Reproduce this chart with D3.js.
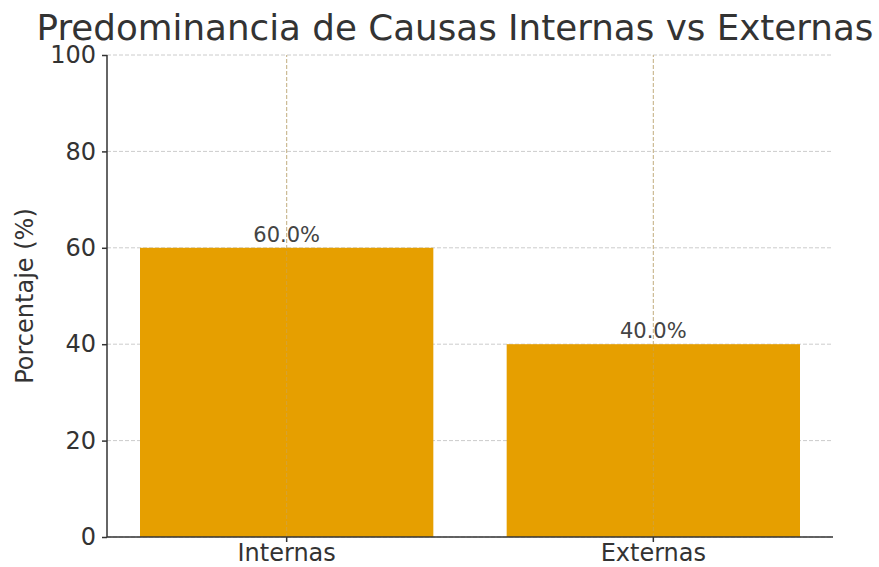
<!DOCTYPE html>
<html>
<head>
<meta charset="utf-8">
<script src="https://cdn.jsdelivr.net/npm/d3@7"></script>
<style>
  body { margin: 0; background: #fff; }
  text { font-family: "DejaVu Sans", sans-serif; fill: #333; }
</style>
</head>
<body>
<svg width="879" height="567"></svg>
<script>
// data
const categories = ["Internas", "Externas"];
const values = [60, 40];
const yTicks = [0, 20, 40, 60, 80, 100];

const svg = d3.select("svg");
const margin = {left: 107, right: 46, top: 55, bottom: 30};
const width = 879, height = 567;

let x = d3.scaleBand()
  .domain(categories)
  .range([margin.left, width - margin.right])
  .paddingInner(0.2)
  .paddingOuter(0.09);

let y = d3.scaleLinear()
  .domain([0, 100])
  .range([height - margin.bottom, margin.top]);

// grid
let grid = svg.append("g").attr("id", "grid");
grid.selectAll("line.h")
  .data(yTicks)
  .enter().append("line")
    .attr("x1", margin.left).attr("x2", width - margin.right)
    .attr("y1", d => y(d)).attr("y2", d => y(d))
    .attr("stroke", "#ccc").attr("stroke-dasharray", "4,2").attr("stroke-width", 1);
grid.selectAll("line.v")
  .data(categories)
  .enter().append("line")
    .attr("x1", d => x(d) + x.bandwidth() / 2).attr("x2", d => x(d) + x.bandwidth() / 2)
    .attr("y1", y(0)).attr("y2", y(100))
    .attr("stroke", "#ccc").attr("stroke-dasharray", "4,2").attr("stroke-width", 1);

// bars
svg.append("g").selectAll("rect")
  .data(values)
  .enter().append("rect")
    .attr("x", (d, i) => x(categories[i]))
    .attr("y", d => y(d))
    .attr("width", x.bandwidth())
    .attr("height", d => y(0) - y(d))
    .attr("fill", "#E69F00");

// vertical grid shows faintly through the bars
svg.append("g").selectAll("line")
  .data(categories)
  .enter().append("line")
    .attr("x1", d => x(d) + x.bandwidth() / 2).attr("x2", d => x(d) + x.bandwidth() / 2)
    .attr("y1", y(0)).attr("y2", y(100))
    .attr("stroke", "#c9a65c").attr("stroke-dasharray", "4,2").attr("stroke-width", 1)
    .attr("opacity", 0.6);

// bar labels
svg.append("g").selectAll("text")
  .data(values)
  .enter().append("text")
    .attr("x", (d, i) => x(categories[i]) + x.bandwidth() / 2)
    .attr("y", d => y(d) - 6)
    .attr("text-anchor", "middle")
    .attr("font-size", 21)
    .style("fill", "#444")
    .text(d => d.toFixed(1) + "%");

// axes
let yAxis = svg.append("g")
  .attr("transform", `translate(${margin.left},0)`)
  .call(d3.axisLeft(y).tickValues(yTicks).tickSize(5).tickPadding(6));
let xAxis = svg.append("g")
  .attr("transform", `translate(0,${y(0)})`)
  .call(d3.axisBottom(x).tickSize(5).tickPadding(2));

[yAxis, xAxis].forEach(a => {
  a.select(".domain").attr("stroke", "#333").attr("stroke-width", 1.5);
  a.selectAll(".tick line").attr("stroke", "#333").attr("stroke-width", 1.5);
  a.selectAll(".tick text").attr("font-size", 24).attr("font-family", "DejaVu Sans").style("fill", "#333");
});
// spines only, no outer tick caps
yAxis.select(".domain").attr("d", `M0,${y(100)}V${y(0)}`);
xAxis.select(".domain").attr("d", `M${margin.left},0H${width - margin.right}`);

// y label
svg.append("text")
  .attr("transform", `translate(33,${(y(0) + y(100)) / 2}) rotate(-90)`)
  .attr("text-anchor", "middle")
  .attr("font-size", 24)
  .text("Porcentaje (%)");

// title
svg.append("text")
  .attr("x", 455)
  .attr("y", 40)
  .attr("text-anchor", "middle")
  .attr("font-size", 35.7)
  .text("Predominancia de Causas Internas vs Externas");
</script>
</body>
</html>
